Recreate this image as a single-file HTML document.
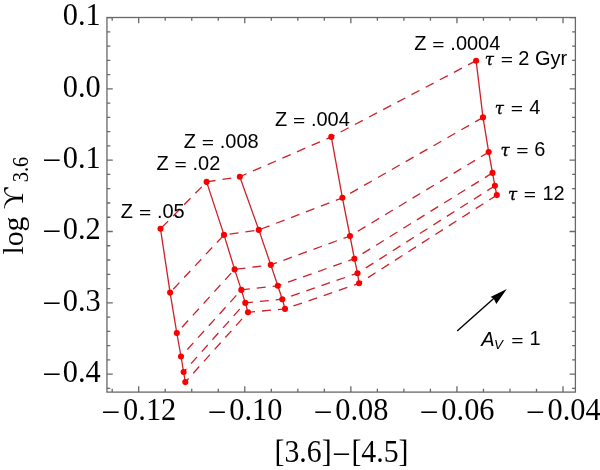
<!DOCTYPE html>
<html><head><meta charset="utf-8"><style>
html,body{margin:0;padding:0;background:#fff;}
svg{display:block;}
.tl{font-family:"Liberation Serif",serif;font-size:30.4px;fill:#000;}
.an{font-family:"Liberation Sans",sans-serif;font-size:20px;fill:#000;}
.tau{font-family:"DejaVu Serif",serif;font-style:italic;font-size:16.5px;fill:#000;stroke:#000;stroke-width:0.35px;}
</style></head><body>
<svg width="600" height="470" viewBox="0 0 600 470">
<rect x="106.95" y="17.5" width="468.45" height="374.6" fill="none" stroke="#686868" stroke-width="1.3"/>
<path d="M112.18 392.1v-3.3M112.18 17.5v3.3M138.7 392.1v-5.8M138.7 17.5v5.8M165.22 392.1v-3.3M165.22 17.5v3.3M191.74 392.1v-3.3M191.74 17.5v3.3M218.26 392.1v-3.3M218.26 17.5v3.3M244.78 392.1v-5.8M244.78 17.5v5.8M271.3 392.1v-3.3M271.3 17.5v3.3M297.82 392.1v-3.3M297.82 17.5v3.3M324.34 392.1v-3.3M324.34 17.5v3.3M350.86 392.1v-5.8M350.86 17.5v5.8M377.38 392.1v-3.3M377.38 17.5v3.3M403.9 392.1v-3.3M403.9 17.5v3.3M430.42 392.1v-3.3M430.42 17.5v3.3M456.94 392.1v-5.8M456.94 17.5v5.8M483.46 392.1v-3.3M483.46 17.5v3.3M509.98 392.1v-3.3M509.98 17.5v3.3M536.5 392.1v-3.3M536.5 17.5v3.3M563.02 392.1v-5.8M563.02 17.5v5.8M106.95 388.36h3.3M575.4 388.36h-3.3M106.95 374.1h5.8M575.4 374.1h-5.8M106.95 359.84h3.3M575.4 359.84h-3.3M106.95 345.58h3.3M575.4 345.58h-3.3M106.95 331.32h3.3M575.4 331.32h-3.3M106.95 317.06h3.3M575.4 317.06h-3.3M106.95 302.8h5.8M575.4 302.8h-5.8M106.95 288.54h3.3M575.4 288.54h-3.3M106.95 274.28h3.3M575.4 274.28h-3.3M106.95 260.02h3.3M575.4 260.02h-3.3M106.95 245.76h3.3M575.4 245.76h-3.3M106.95 231.5h5.8M575.4 231.5h-5.8M106.95 217.24h3.3M575.4 217.24h-3.3M106.95 202.98h3.3M575.4 202.98h-3.3M106.95 188.72h3.3M575.4 188.72h-3.3M106.95 174.46h3.3M575.4 174.46h-3.3M106.95 160.2h5.8M575.4 160.2h-5.8M106.95 145.94h3.3M575.4 145.94h-3.3M106.95 131.68h3.3M575.4 131.68h-3.3M106.95 117.42h3.3M575.4 117.42h-3.3M106.95 103.16h3.3M575.4 103.16h-3.3M106.95 88.9h5.8M575.4 88.9h-5.8M106.95 74.64h3.3M575.4 74.64h-3.3M106.95 60.38h3.3M575.4 60.38h-3.3M106.95 46.12h3.3M575.4 46.12h-3.3M106.95 31.86h3.3M575.4 31.86h-3.3M106.95 17.6h5.8M575.4 17.6h-5.8" stroke="#686868" stroke-width="1.3" fill="none"/>
<polyline points="476.1,60.7 331.3,136.9 239.8,176.7 206.6,181.9 160.5,228.8" fill="none" stroke="#cc2129" stroke-width="1.3" stroke-dasharray="9 7"/>
<polyline points="483,117.4 342.4,197.8 258.8,229.9 224,234.9 170.1,292.6" fill="none" stroke="#cc2129" stroke-width="1.3" stroke-dasharray="9 7"/>
<polyline points="488.7,152.1 350,236 270.8,264.9 234.6,269.4 176.8,333" fill="none" stroke="#cc2129" stroke-width="1.3" stroke-dasharray="9 7"/>
<polyline points="492.5,172.9 354.4,258.7 277.8,285.8 241.3,289.9 181,356.5" fill="none" stroke="#cc2129" stroke-width="1.3" stroke-dasharray="9 7"/>
<polyline points="494.9,185.8 357.5,273.2 282.3,299.2 245.3,302.9 183.6,372" fill="none" stroke="#cc2129" stroke-width="1.3" stroke-dasharray="9 7"/>
<polyline points="496.8,195.1 359.1,283.3 285,308.9 248,312.3 185.3,382.1" fill="none" stroke="#cc2129" stroke-width="1.3" stroke-dasharray="9 7"/>
<polyline points="476.1,60.7 483,117.4 488.7,152.1 492.5,172.9 494.9,185.8 496.8,195.1" fill="none" stroke="#cc2129" stroke-width="1.3"/>
<polyline points="331.3,136.9 342.4,197.8 350,236 354.4,258.7 357.5,273.2 359.1,283.3" fill="none" stroke="#cc2129" stroke-width="1.3"/>
<polyline points="239.8,176.7 258.8,229.9 270.8,264.9 277.8,285.8 282.3,299.2 285,308.9" fill="none" stroke="#cc2129" stroke-width="1.3"/>
<polyline points="206.6,181.9 224,234.9 234.6,269.4 241.3,289.9 245.3,302.9 248,312.3" fill="none" stroke="#cc2129" stroke-width="1.3"/>
<polyline points="160.5,228.8 170.1,292.6 176.8,333 181,356.5 183.6,372 185.3,382.1" fill="none" stroke="#cc2129" stroke-width="1.3"/>
<circle cx="476.1" cy="60.7" r="3.05" fill="#fa0000"/>
<circle cx="483" cy="117.4" r="3.05" fill="#fa0000"/>
<circle cx="488.7" cy="152.1" r="3.05" fill="#fa0000"/>
<circle cx="492.5" cy="172.9" r="3.05" fill="#fa0000"/>
<circle cx="494.9" cy="185.8" r="3.05" fill="#fa0000"/>
<circle cx="496.8" cy="195.1" r="3.05" fill="#fa0000"/>
<circle cx="331.3" cy="136.9" r="3.05" fill="#fa0000"/>
<circle cx="342.4" cy="197.8" r="3.05" fill="#fa0000"/>
<circle cx="350" cy="236" r="3.05" fill="#fa0000"/>
<circle cx="354.4" cy="258.7" r="3.05" fill="#fa0000"/>
<circle cx="357.5" cy="273.2" r="3.05" fill="#fa0000"/>
<circle cx="359.1" cy="283.3" r="3.05" fill="#fa0000"/>
<circle cx="239.8" cy="176.7" r="3.05" fill="#fa0000"/>
<circle cx="258.8" cy="229.9" r="3.05" fill="#fa0000"/>
<circle cx="270.8" cy="264.9" r="3.05" fill="#fa0000"/>
<circle cx="277.8" cy="285.8" r="3.05" fill="#fa0000"/>
<circle cx="282.3" cy="299.2" r="3.05" fill="#fa0000"/>
<circle cx="285" cy="308.9" r="3.05" fill="#fa0000"/>
<circle cx="206.6" cy="181.9" r="3.05" fill="#fa0000"/>
<circle cx="224" cy="234.9" r="3.05" fill="#fa0000"/>
<circle cx="234.6" cy="269.4" r="3.05" fill="#fa0000"/>
<circle cx="241.3" cy="289.9" r="3.05" fill="#fa0000"/>
<circle cx="245.3" cy="302.9" r="3.05" fill="#fa0000"/>
<circle cx="248" cy="312.3" r="3.05" fill="#fa0000"/>
<circle cx="160.5" cy="228.8" r="3.05" fill="#fa0000"/>
<circle cx="170.1" cy="292.6" r="3.05" fill="#fa0000"/>
<circle cx="176.8" cy="333" r="3.05" fill="#fa0000"/>
<circle cx="181" cy="356.5" r="3.05" fill="#fa0000"/>
<circle cx="183.6" cy="372" r="3.05" fill="#fa0000"/>
<circle cx="185.3" cy="382.1" r="3.05" fill="#fa0000"/>
<path d="M457.2 331.1L494 298.3" stroke="#000" stroke-width="1.4" fill="none"/>
<path d="M506.8 288.9L490.5 296.9L493.7 298.5L496.3 304.1Z" fill="#000"/>
<text transform="translate(139.8 420.4) scale(1 1.04)" text-anchor="middle" class="tl">–<tspan dx="4.6">0.12</tspan></text>
<text transform="translate(245.88 420.4) scale(1 1.04)" text-anchor="middle" class="tl">–<tspan dx="4.6">0.10</tspan></text>
<text transform="translate(351.96 420.4) scale(1 1.04)" text-anchor="middle" class="tl">–<tspan dx="4.6">0.08</tspan></text>
<text transform="translate(458.04 420.4) scale(1 1.04)" text-anchor="middle" class="tl">–<tspan dx="4.6">0.06</tspan></text>
<text transform="translate(564.12 420.4) scale(1 1.04)" text-anchor="middle" class="tl">–<tspan dx="4.6">0.04</tspan></text>
<text transform="translate(100.8 25.4) scale(1 1.04)" text-anchor="end" class="tl">0.1</text>
<text transform="translate(100.8 96.7) scale(1 1.04)" text-anchor="end" class="tl">0.0</text>
<text transform="translate(100.8 168) scale(1 1.04)" text-anchor="end" class="tl">–<tspan dx="3.3">0.1</tspan></text>
<text transform="translate(100.8 239.3) scale(1 1.04)" text-anchor="end" class="tl">–<tspan dx="3.3">0.2</tspan></text>
<text transform="translate(100.8 310.6) scale(1 1.04)" text-anchor="end" class="tl">–<tspan dx="3.3">0.3</tspan></text>
<text transform="translate(100.8 381.9) scale(1 1.04)" text-anchor="end" class="tl">–<tspan dx="3.3">0.4</tspan></text>
<text transform="translate(341.5 461.6) scale(1 1.04)" text-anchor="middle" class="tl" style="font-size:29.8px">[3.6]<tspan dx="2.5">–</tspan><tspan dx="2.5">[4.5]</tspan></text>
<text transform="translate(22.9 254.6) rotate(-90)" class="tl" style="font-size:29.8px">log ϒ</text>
<text transform="translate(28.3 182.3) rotate(-90) scale(1 1.09)" class="tl" style="font-size:20.4px">3.6</text>
<text transform="translate(414.31 50.4) scale(1 1.045)" class="an">Z</text>
<text transform="translate(432.37 50) scale(1.05 0.8)" class="an">=</text>
<text transform="translate(450.33 50.4) scale(1 1.045)" class="an">.0004</text>
<text transform="translate(274.91 126.2) scale(1 1.045)" class="an">Z</text>
<text transform="translate(292.97 125.8) scale(1.05 0.8)" class="an">=</text>
<text transform="translate(310.93 126.2) scale(1 1.045)" class="an">.004</text>
<text transform="translate(183.71 147.9) scale(1 1.045)" class="an">Z</text>
<text transform="translate(201.77 147.5) scale(1.05 0.8)" class="an">=</text>
<text transform="translate(219.73 147.9) scale(1 1.045)" class="an">.008</text>
<text transform="translate(156.51 170.4) scale(1 1.045)" class="an">Z</text>
<text transform="translate(174.57 170) scale(1.05 0.8)" class="an">=</text>
<text transform="translate(192.53 170.4) scale(1 1.045)" class="an">.02</text>
<text transform="translate(120.86 218.2) scale(1 1.045)" class="an">Z</text>
<text transform="translate(138.92 217.8) scale(1.05 0.8)" class="an">=</text>
<text transform="translate(156.88 218.2) scale(1 1.045)" class="an">.05</text>
<text x="484.71" y="64.5" class="tau">τ</text>
<text transform="translate(500.67 64.7) scale(1.05 0.8)" class="an">=</text>
<text transform="translate(518.3 64.5) scale(1 1.045)" class="an">2 Gyr</text>
<text x="494.71" y="113.5" class="tau">τ</text>
<text transform="translate(510.67 113.7) scale(1.05 0.8)" class="an">=</text>
<text transform="translate(529.14 113.5) scale(1 1.045)" class="an">4</text>
<text x="500.41" y="155.5" class="tau">τ</text>
<text transform="translate(516.37 155.7) scale(1.05 0.8)" class="an">=</text>
<text transform="translate(534.3 155.5) scale(1 1.045)" class="an">6</text>
<text x="507.91" y="199.5" class="tau">τ</text>
<text transform="translate(523.87 199.7) scale(1.05 0.8)" class="an">=</text>
<text transform="translate(542.48 199.5) scale(1 1.045)" class="an">12</text>
<text transform="translate(481.3 345.8) scale(1 1.045)" class="an"><tspan font-style="italic">A</tspan></text>
<text x="493.95" y="348.9" class="an" style="font-size:13.4px;font-style:italic">V</text>
<text transform="translate(511.17 345.8) scale(1.05 0.8)" class="an">=</text>
<text transform="translate(529.58 345.2) scale(1 1.045)" class="an">1</text>
</svg>
</body></html>
